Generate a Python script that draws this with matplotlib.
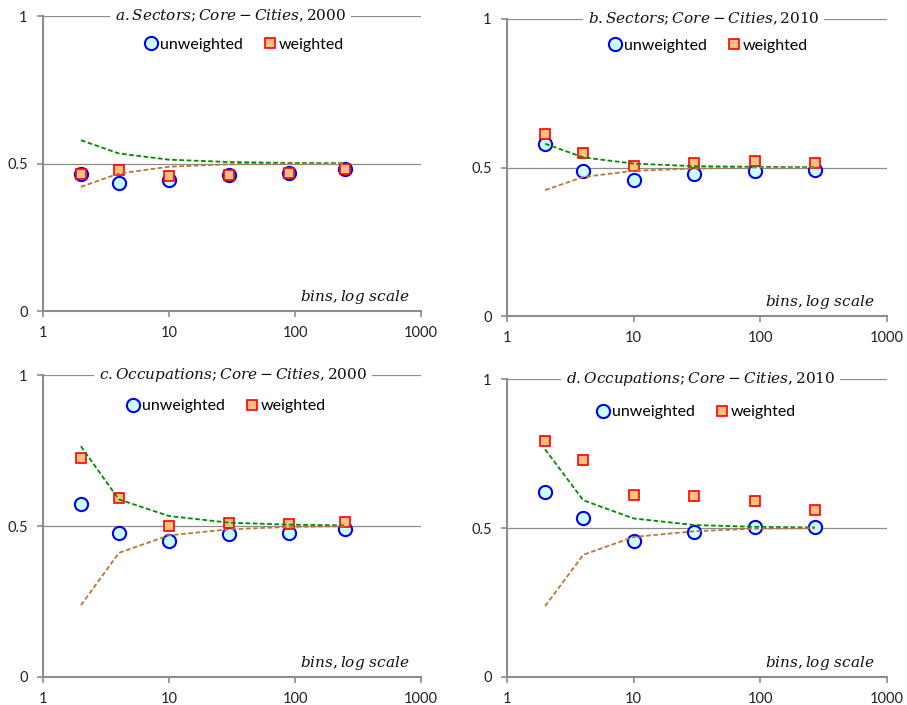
import matplotlib
matplotlib.use("Agg")
import matplotlib.pyplot as plt
from matplotlib.ticker import FixedLocator, FixedFormatter, NullLocator

plt.rcParams['mathtext.fontset'] = 'dejavuserif'
plt.rcParams['font.family'] = ['Lato', 'DejaVu Sans']

# ---- data ----
titles = [r"$a.Sectors;Core-Cities,2000$",
          r"$b.Sectors;Core-Cities,2010$",
          r"$c.Occupations;Core-Cities,2000$",
          r"$d.Occupations;Core-Cities,2010$"]

bins_a = [2, 4, 10, 30, 90, 250]
bins_b = [2, 4, 10, 30, 90, 270]
bins_c = [2, 4, 10, 30, 90, 250]
bins_d = [2, 4, 10, 30, 90, 270]

unw_a = [0.466, 0.434, 0.443, 0.460, 0.468, 0.482]
wgt_a = [0.463, 0.478, 0.458, 0.460, 0.468, 0.482]
up_a = [0.579, 0.534, 0.513, 0.505, 0.502, 0.501]
lo_a = [0.421, 0.466, 0.489, 0.4975, 0.500, 0.500]

unw_b = [0.579, 0.487, 0.457, 0.4775, 0.489, 0.492]
wgt_b = [0.613, 0.549, 0.505, 0.515, 0.521, 0.515]
up_b = [0.580, 0.534, 0.513, 0.5045, 0.5025, 0.501]
lo_b = [0.424, 0.468, 0.489, 0.4965, 0.500, 0.500]

unw_c = [0.573, 0.477, 0.450, 0.4725, 0.477, 0.491]
wgt_c = [0.726, 0.592, 0.499, 0.511, 0.507, 0.513]
up_c = [0.764, 0.588, 0.533, 0.511, 0.5045, 0.502]
lo_c = [0.2375, 0.411, 0.469, 0.489, 0.497, 0.499]

unw_d = [0.620, 0.534, 0.458, 0.4865, 0.503, 0.505]
wgt_d = [0.791, 0.729, 0.611, 0.6065, 0.591, 0.559]
up_d = [0.764, 0.593, 0.532, 0.510, 0.504, 0.502]
lo_d = [0.238, 0.410, 0.470, 0.489, 0.498, 0.499]

x_ticks = [1, 10, 100, 1000]
x_labels = ["1", "10", "100", "1000"]
y_ticks = [0, 0.5, 1]
y_labels = ["0", "0.5", "1"]

panels = [
    (bins_a, unw_a, wgt_a, up_a, lo_a),
    (bins_b, unw_b, wgt_b, up_b, lo_b),
    (bins_c, unw_c, wgt_c, up_c, lo_c),
    (bins_d, unw_d, wgt_d, up_d, lo_d),
]

# ---- layout ----
W, H = 907, 705
boxes = [  # left, right, top, bottom in pixels
    (43, 421, 16, 311),
    (507, 887, 19, 316),
    (43, 421, 375, 677),
    (507, 887, 379, 677),
]
title_x = [0.496, 0.517, 0.503, 0.509]
leg_pos = [(0.530, 0.903), (0.527, 0.911), (0.482, 0.896), (0.495, 0.888)]

grid_c = "#8c8c8c"
fig = plt.figure(figsize=(W / 100, H / 100), dpi=100)

for i, (bx, un, wg, up, lo) in enumerate(panels):
    l, r, t, b = boxes[i]
    ax = fig.add_axes([l / W, 1 - b / H, (r - l) / W, (b - t) / H])
    ax.set_xscale('log')
    ax.set_xlim(1, 1000)
    ax.set_ylim(0, 1)
    for s in ('top', 'right'):
        ax.spines[s].set_visible(False)
    for s in ('left', 'bottom'):
        ax.spines[s].set_color(grid_c)
        ax.spines[s].set_linewidth(1.5)
    ax.xaxis.set_major_locator(FixedLocator(x_ticks))
    ax.xaxis.set_major_formatter(FixedFormatter(x_labels))
    ax.xaxis.set_minor_locator(NullLocator())
    ax.yaxis.set_major_locator(FixedLocator(y_ticks))
    ax.yaxis.set_major_formatter(FixedFormatter(y_labels))
    ax.tick_params(axis='both', direction='out', length=4, width=1.2,
                   color=grid_c, labelsize=10.5, labelcolor='#222222', pad=7)
    for yv in (0.5, 1.0):
        ax.axhline(yv, color=grid_c, lw=0.9, zorder=1)

    ax.plot(bx, un, linestyle='none', marker='o', ms=9.5, mfc='#CCFFFF',
            mec='#0000FF', mew=1.5, zorder=3, label='unweighted', clip_on=False)
    ax.plot(bx, wg, linestyle='none', marker='s', ms=7, mfc='#FFC080',
            mec='#FF0000', mew=1.2, zorder=4, label='weighted', clip_on=False)
    ax.plot(bx, up, color='#008A00', lw=1.3, dashes=(2.6, 1.4), zorder=5)
    ax.plot(bx, lo, color='#B8763A', lw=1.3, dashes=(2.6, 1.4), zorder=5)

    ax.text(title_x[i], 1.0, titles[i], transform=ax.transAxes, ha='center',
            va='center', fontsize=11, color='#111111', zorder=6,
            bbox=dict(boxstyle='square,pad=0.3', fc='white', ec='none'))
    ax.text(0.968, 0.047, r"$bins,log\ scale$", transform=ax.transAxes,
            ha='right', va='center', fontsize=11, color='#111111')

    leg = ax.legend(loc='center', bbox_to_anchor=leg_pos[i], ncol=2,
                    frameon=False, fontsize=11.5, handletextpad=0.05,
                    columnspacing=1.2, handlelength=1.0, borderpad=0,
                    borderaxespad=0)

fig.savefig("out.png", dpi=100)
